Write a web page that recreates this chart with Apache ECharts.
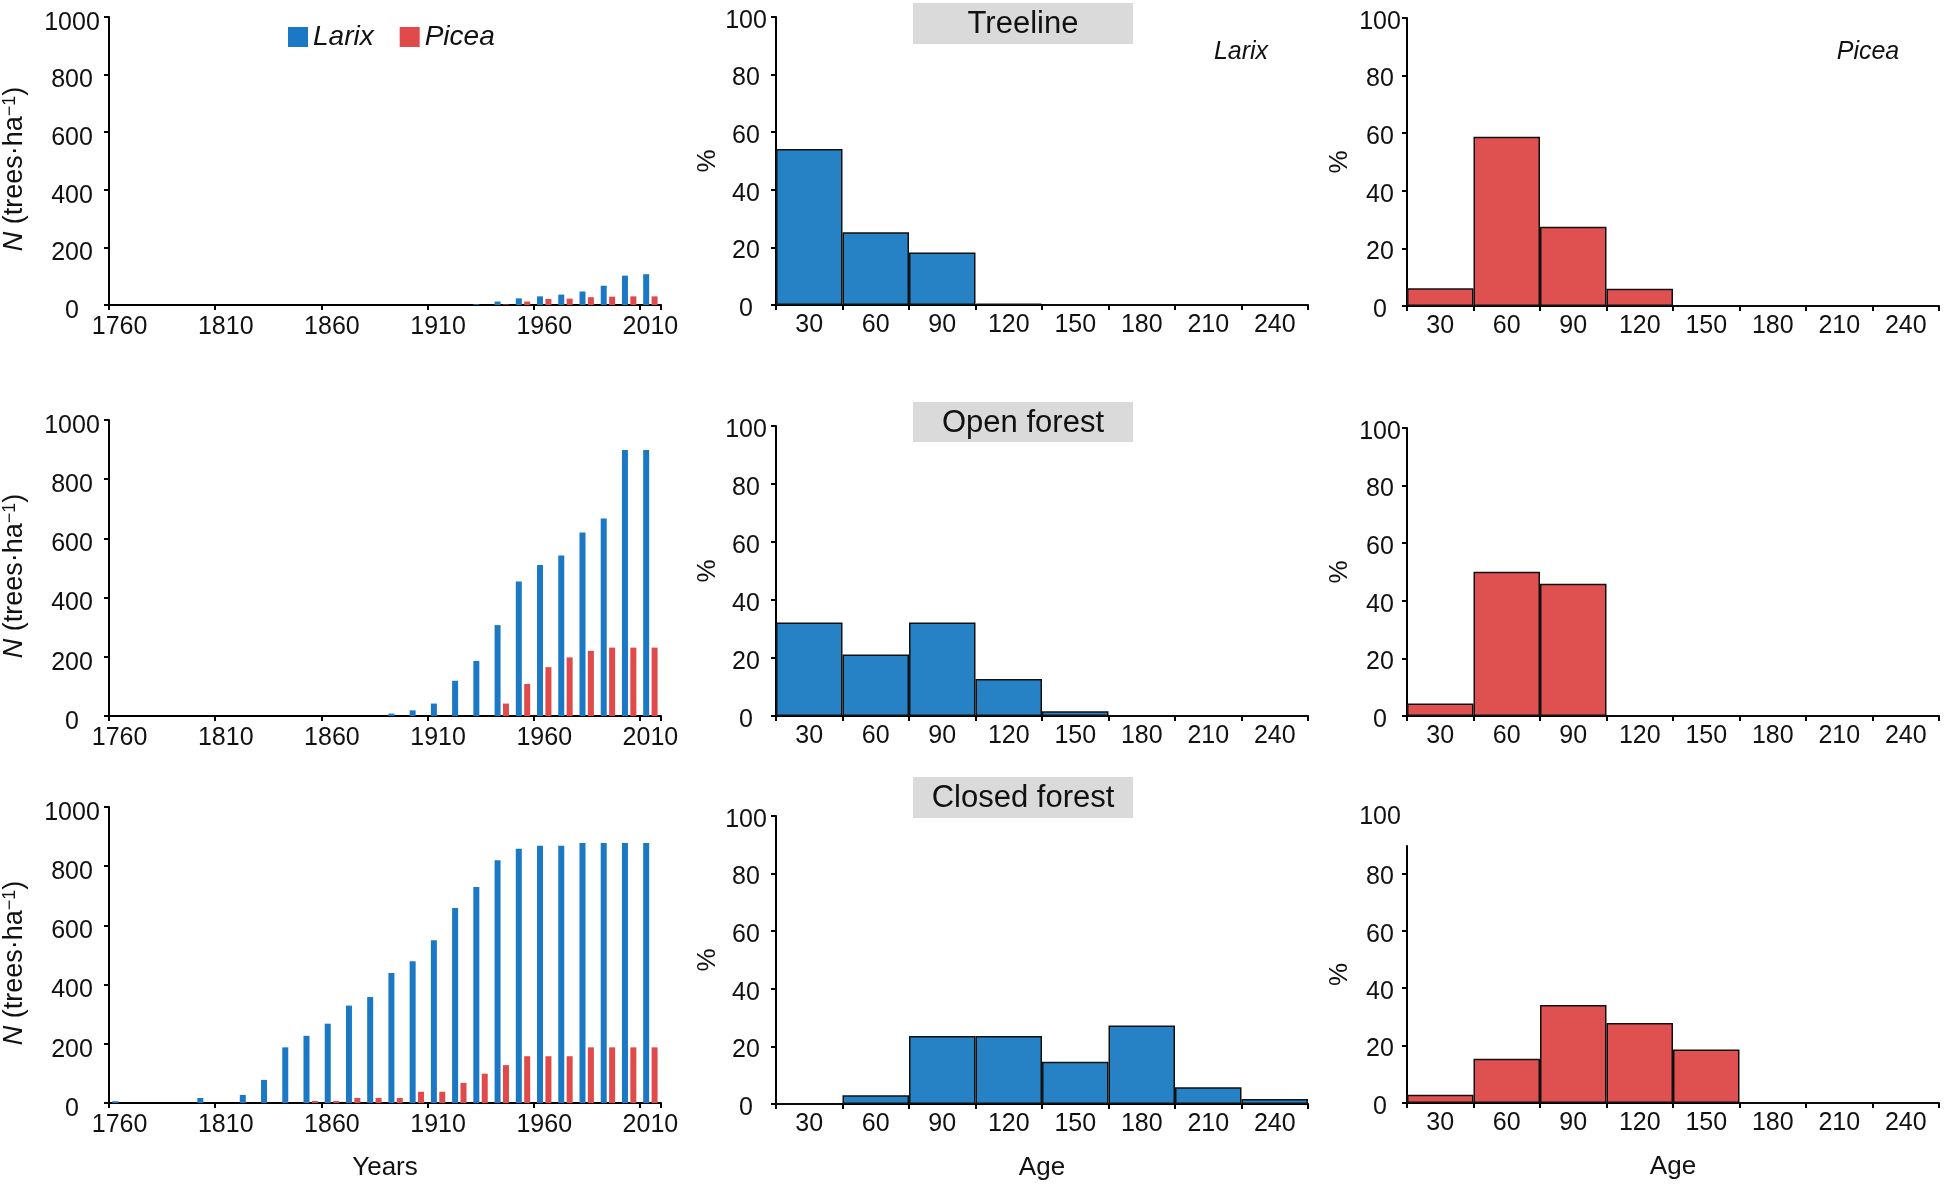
<!DOCTYPE html>
<html>
<head>
<meta charset="utf-8">
<script src="https://cdn.jsdelivr.net/npm/echarts@6/dist/echarts.min.js"></script>
<style>html,body{margin:0;padding:0;background:#fff}#c{width:1946px;height:1186px}</style>
</head>
<body>
<div id="c"></div>
<script>
// ---------- DATA ----------
const years = ['1760','1770','1780','1790','1800','1810','1820','1830','1840','1850','1860','1870','1880',
               '1890','1900','1910','1920','1930','1940','1950','1960','1970','1980','1990','2000','2010'];
const ageClasses = ['30','60','90','120','150','180','210','240'];

// Density N (trees·ha-1) by year
const treelineLarix = [0,0,0,0,0,0,0,0,0,0,0,0,0,0,0,0,0,3,12,23,30,36,47,67,102,107];
const treelinePicea = [0,0,0,0,0,0,0,0,0,0,0,0,0,0,0,0,0,0,2,12,21,22,27,29,30,30];
const openLarix     = [0,0,0,0,0,0,0,0,0,0,0,0,0,8,19,42,119,186,307,454,510,542,620,667,899,899];
const openPicea     = [0,0,0,0,0,0,0,0,0,0,0,0,0,0,0,0,0,0,42,108,165,198,220,231,231,231];
const closedLarix   = [6,0,0,0,17,0,27,78,188,227,268,329,358,439,479,550,659,730,820,859,869,869,878,878,878,878];
const closedPicea   = [0,0,0,0,0,0,0,0,0,7,7,17,17,17,38,38,68,99,128,158,158,158,188,188,188,188];

// Age distribution (%) by age class
const treelineLarixAge = [54.2,25.3,18.2,0.5,0,0,0,0];
const treelinePiceaAge = [6.2,58.8,27.5,6.0,0,0,0,0];
const openLarixAge     = [32.2,21.2,32.2,12.8,1.6,0,0,0];
const openPiceaAge     = [4.3,50.1,45.9,0,0,0,0,0];
const closedLarixAge   = [0,3.0,23.6,23.6,14.7,27.3,5.8,1.7];
const closedPiceaAge   = [2.9,15.4,34.1,27.9,18.6,0,0,0];

const siteTitles = ['Treeline','Open forest','Closed forest'];
const speciesNames = ['Larix','Picea'];

// ---------- STYLE ----------
const FONT = "'Liberation Sans', Arial, sans-serif";
const INK = '#111';
const LARIX_BAR = '#1b78c4';
const PICEA_BAR = '#e04a4a';
const LARIX_HIST = '#2682c4';
const PICEA_HIST = '#df5151';

const cols = [{left:109,width:552},{left:776,width:532},{left:1407,width:532}];
const rowsByCol = [
  [{top:17,height:288},{top:420,height:296},{top:807,height:296}],
  [{top:17,height:288},{top:426,height:290},{top:816,height:288}],
  [{top:18,height:288},{top:428,height:288},{top:846,height:257}]
];

const densityData = [[treelineLarix,treelinePicea],[openLarix,openPicea],[closedLarix,closedPicea]];
const larixAge = [treelineLarixAge, openLarixAge, closedLarixAge];
const piceaAge = [treelinePiceaAge, openPiceaAge, closedPiceaAge];

const axisLine = {show:true, lineStyle:{color:'#000', width:2}};
const axisTickBase = {show:true, length:5, lineStyle:{color:'#000', width:2}};
const lblBase = {color:INK, fontSize:25, fontFamily:FONT};

const grids = [], xAxes = [], yAxes = [], series = [];

function addGrid(col,row){
  const g = Object.assign({}, cols[col], rowsByCol[col][row]);
  grids.push({left:g.left, top:g.top, width:g.width, height:g.height, containLabel:false});
  return grids.length-1;
}

for (let row=0; row<3; row++){
  // ---- density bar chart ----
  let gi = addGrid(0,row);
  xAxes.push({
    type:'category', gridIndex:gi, data:years, boundaryGap:true,
    axisLine, axisTick:Object.assign({}, axisTickBase, {interval:4}),
    axisLabel:Object.assign({}, lblBase, {interval:4, margin:10}),
    splitLine:{show:false},
    name: row===2 ? 'Years' : '', nameLocation:'middle', nameGap:52,
    nameTextStyle:{color:INK, fontSize:26, fontFamily:FONT}
  });
  yAxes.push({
    type:'value', gridIndex:gi, min:0, max:1000, interval:200,
    axisLine, axisTick:axisTickBase, splitLine:{show:false},
    axisLabel:Object.assign({}, lblBase, {align:'center', verticalAlign:'top', lineHeight:12, margin:37,
      formatter: v => String(v)}),
    name:'{i|N} (trees·ha{s|−1})', nameLocation:'middle', nameGap:81,
    nameTextStyle:{color:INK, fontSize:27, fontFamily:FONT, padding:[0,16,0,0],
      rich:{i:{fontStyle:'italic', fontSize:27, fontFamily:FONT, color:INK},
            s:{fontSize:18, fontFamily:FONT, color:INK, verticalAlign:'top'}}}
  });
  series.push({type:'bar', name:speciesNames[0], xAxisIndex:gi, yAxisIndex:gi,
    data:densityData[row][0], barWidth:6, barGap:'40%', itemStyle:{color:LARIX_BAR}});
  series.push({type:'bar', name:speciesNames[1], xAxisIndex:gi, yAxisIndex:gi,
    data:densityData[row][1], barWidth:6, barGap:'40%', itemStyle:{color:PICEA_BAR}});

  // ---- age histograms ----
  for (let c=1; c<=2; c++){
    gi = addGrid(c,row);
    const last = (c===2 && row===2);
    xAxes.push({
      type:'category', gridIndex:gi, data:ageClasses, boundaryGap:true,
      axisLine, axisTick:Object.assign({}, axisTickBase, {interval:0}),
      axisLabel:Object.assign({}, lblBase, {interval:0, margin:8}),
      splitLine:{show:false},
      name: row===2 ? 'Age' : '', nameLocation:'middle', nameGap:51,
      nameTextStyle:{color:INK, fontSize:26, fontFamily:FONT}
    });
    const ya = {
      type:'value', gridIndex:gi, min:0, max: last ? 89.5 : 100, interval:20,
      axisLine, splitLine:{show:false},
      axisTick: Object.assign({}, axisTickBase),
      axisLabel:Object.assign({}, lblBase, {align:'center', verticalAlign:'top', lineHeight:8,
        margin: c===1 ? 30 : 27,
        formatter: v => (Math.abs(v % 20) < 1e-6 ? String(v) : '')}),
      name:'%', nameLocation:'middle', nameGap: c===1 ? 53 : 54,
      nameTextStyle:{color:INK, fontSize:26, fontFamily:FONT}
    };
    if (last){
      ya.axisTick.customValues = [0,20,40,60,80];
      ya.axisLabel.customValues = [0,20,40,60,80];
    }
    yAxes.push(ya);
    series.push({type:'bar', name: c===1 ? speciesNames[0] : speciesNames[1],
      xAxisIndex:gi, yAxisIndex:gi,
      data: c===1 ? larixAge[row] : piceaAge[row],
      barCategoryGap:0,
      itemStyle:{color: c===1 ? LARIX_HIST : PICEA_HIST, borderColor:'#111', borderWidth:1.5}});
  }
}

// Title boxes
const boxes = [{y:3,h:41},{y:402,h:40},{y:777,h:41}];
const graphic = [];
boxes.forEach((b,i)=>{
  graphic.push({type:'rect', shape:{x:913, y:b.y, width:220, height:b.h}, style:{fill:'#dadada'}, z:10});
  graphic.push({type:'text', x:1023, y:b.y + b.h/2 + 1, z:11,
    style:{text:siteTitles[i], fill:INK, font:"31px " + FONT, align:'center', verticalAlign:'middle'}});
});
graphic.push({type:'text', x:1241, y:52, z:11,
  style:{text:speciesNames[0], fill:INK, font:"italic 25px " + FONT, align:'center', verticalAlign:'middle'}});
graphic.push({type:'text', x:1868, y:52, z:11,
  style:{text:speciesNames[1], fill:INK, font:"italic 25px " + FONT, align:'center', verticalAlign:'middle'}});
// "100" label above the shortened axis (bottom-right panel)
graphic.push({type:'text', x:1380, y:817, z:11,
  style:{text:'100', fill:INK, font:"25px " + FONT, align:'center', verticalAlign:'middle'}});

const chart = echarts.init(document.getElementById('c'), null, {renderer:'canvas'});
chart.setOption({
  backgroundColor:'#ffffff',
  animation:false,
  textStyle:{fontFamily:FONT},
  legend:{
    data:speciesNames, left:283, top:18, itemWidth:20, itemHeight:20, itemGap:26,
    icon:'rect',
    textStyle:{color:INK, fontSize:28, fontStyle:'italic', fontFamily:FONT}
  },
  grid:grids, xAxis:xAxes, yAxis:yAxes, series:series, graphic:graphic
});
</script>
</body>
</html>
